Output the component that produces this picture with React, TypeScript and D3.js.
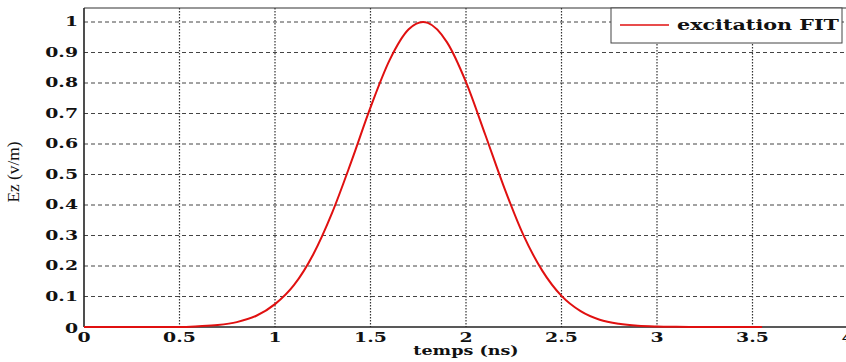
import React, { useMemo } from "react";
import * as d3 from "d3";

// values (time in ns, Ez in V/m)
const times = [
  0, 0.1, 0.2, 0.3, 0.4, 0.5, 0.6, 0.7, 0.8, 0.9, 1.0, 1.1, 1.2, 1.3, 1.4, 1.5,
  1.6, 1.7, 1.775, 1.8, 1.9, 2.0, 2.1, 2.2, 2.3, 2.4, 2.5, 2.6, 2.7, 2.8, 2.9,
  3.0, 3.1, 3.2, 3.3, 3.4, 3.5, 3.55,
];
const excitation = [
  0, 0, 0, 0, 0, 0, 0.0025, 0.0066, 0.016, 0.036, 0.075, 0.138, 0.238, 0.376,
  0.543, 0.72, 0.875, 0.976, 1.0, 0.997, 0.934, 0.803, 0.632, 0.457, 0.302,
  0.184, 0.102, 0.052, 0.024, 0.0105, 0.004, 0.0015, 0.0005, 0, 0, 0, 0, 0,
];
const xTicks = [0, 0.5, 1, 1.5, 2, 2.5, 3, 3.5, 4];
const yTicks = [0, 0.1, 0.2, 0.3, 0.4, 0.5, 0.6, 0.7, 0.8, 0.9, 1];
const seriesName = "excitation FIT";

const W = 846;
const H = 362;
const left = 84;
const right = 848;
const top = 8;
const bottom = 327;

const labelFont = "'DejaVu Serif', serif";

export default function App() {
  const x = useMemo(() => d3.scaleLinear().domain([0, 4]).range([left, right]), []);
  const y = useMemo(() => d3.scaleLinear().domain([0, 1]).range([bottom, 22]), []);

  const path = useMemo(() => {
    const line = d3
      .line<number>()
      .x((_, i) => x(times[i]))
      .y((d) => y(d))
      .curve(d3.curveMonotoneX);
    return line(excitation) ?? "";
  }, [x, y]);

  const fmt = (v: number) => (v === 0 ? "0" : String(v));

  return (
    <svg
      width={W}
      height={H}
      style={{ position: "absolute", left: 0, top: 0, background: "#fff" }}
    >
      <rect x={0} y={0} width={W} height={H} fill="#fff" />

      {/* grid */}
      {xTicks.slice(1, -1).map((t) => (
        <line
          key={"gx" + t}
          x1={x(t)}
          x2={x(t)}
          y1={top}
          y2={bottom}
          stroke="#333"
          strokeWidth={1.2}
          strokeDasharray="1.5,1.5"
        />
      ))}
      {yTicks.slice(1).map((t) => (
        <line
          key={"gy" + t}
          x1={left}
          x2={right}
          y1={y(t)}
          y2={y(t)}
          stroke="#444"
          strokeWidth={1}
          strokeDasharray="4,3"
        />
      ))}

      {/* frame */}
      <line x1={left} x2={right} y1={top} y2={top} stroke="#333" strokeWidth={1.2} />
      <line x1={left} x2={left} y1={top} y2={bottom} stroke="#222" strokeWidth={1.6} />
      <line x1={left} x2={right} y1={bottom} y2={bottom} stroke="#222" strokeWidth={1.6} />

      {/* curve */}
      <path d={path} fill="none" stroke="#e01010" strokeWidth={2} />

      {/* y tick labels */}
      {yTicks.map((t) => (
        <text
          key={"ly" + t}
          transform={`translate(${t === 0 ? 78 : 78},${y(t) + (t === 0 ? 6 : 4)}) scale(1.45,1)`}
          textAnchor="end"
          fontFamily={labelFont}
          fontWeight="bold"
          fontSize={13}
          fill="#111"
        >
          {fmt(t)}
        </text>
      ))}

      {/* x tick labels */}
      {xTicks.map((t) => (
        <text
          key={"lx" + t}
          transform={`translate(${x(t)},342) scale(1.45,1)`}
          textAnchor="middle"
          fontFamily={labelFont}
          fontWeight="bold"
          fontSize={13}
          fill="#111"
        >
          {fmt(t)}
        </text>
      ))}

      {/* axis titles */}
      <text
        transform={`translate(${(left + right) / 2},355) scale(1.35,1)`}
        textAnchor="middle"
        fontFamily={labelFont}
        fontWeight="bold"
        fontSize={13}
        fill="#111"
      >
        temps (ns)
      </text>
      <text
        transform="translate(19,172) rotate(-90)"
        textAnchor="middle"
        fontFamily="'Liberation Serif', serif"
        fontSize={16}
        textLength={61}
        lengthAdjust="spacingAndGlyphs"
        fill="#111"
      >
        Ez (v/m)
      </text>

      {/* legend */}
      <rect x={611} y={8} width={231} height={35} fill="#fff" stroke="#444" strokeWidth={1} />
      <line x1={620} x2={669} y1={25} y2={25} stroke="#e01010" strokeWidth={1.5} />
      <text
        x={677}
        y={30}
        fontFamily={labelFont}
        fontWeight="bold"
        fontSize={14}
        textLength={162}
        lengthAdjust="spacingAndGlyphs"
        fill="#111"
      >
        {seriesName}
      </text>
    </svg>
  );
}
